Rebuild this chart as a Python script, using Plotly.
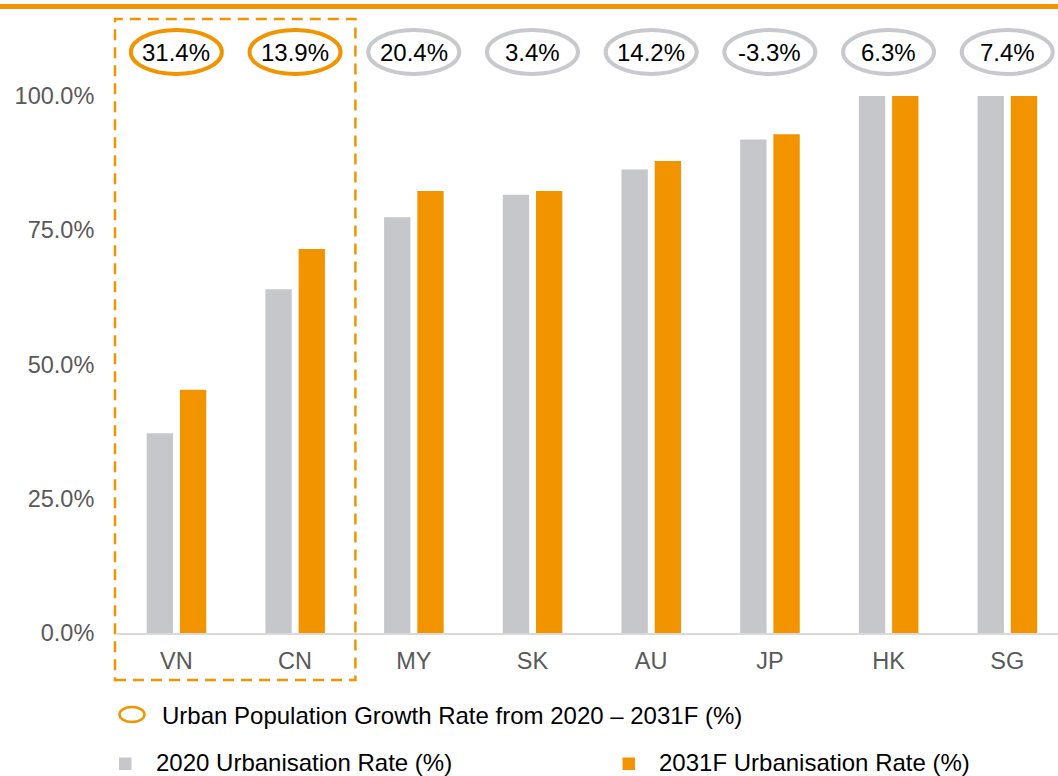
import plotly.graph_objects as go

# ---------------- data ----------------
countries = ["VN", "CN", "MY", "SK", "AU", "JP", "HK", "SG"]
rate_2020 = [37.2, 64.0, 77.4, 81.6, 86.3, 91.9, 100.0, 100.0]
rate_2031f = [45.3, 71.5, 82.3, 82.3, 87.9, 92.9, 100.0, 100.0]
growth_labels = ["31.4%", "13.9%", "20.4%", "3.4%", "14.2%", "-3.3%", "6.3%", "7.4%"]
highlighted = [True, True, False, False, False, False, False, False]
y_ticks = [0, 25, 50, 75, 100]
y_tick_text = ["0.0%", "25.0%", "50.0%", "75.0%", "100.0%"]

legend_growth = "Urban Population Growth Rate from 2020 \u2013 2031F (%)"
legend_2020 = "2020 Urbanisation Rate (%)"
legend_2031 = "2031F Urbanisation Rate (%)"

# ---------------- style ----------------
ORANGE = "#F29400"
GREY = "#C6C7CB"
ELL_GREY = "#C8C9CD"
TICK_GREY = "#595959"
FONT = "Arial, Liberation Sans, sans-serif"

W, H = 1058, 776
ML, MR, MT, MB = 117, 0, 16, 143
PW, PH = W - ML - MR, H - MT - MB
CAT_PX = 118.7               # pixel width of one category
X_RANGE = [-0.5, -0.5 + PW / CAT_PX]
PX_PER_UNIT = 5.37           # pixels per 1 percentage point
Y_RANGE = [0, PH / PX_PER_UNIT]


def px_x(p):
    return (p - ML) / PW


def px_y(p):
    return (H - MB - p) / PH


def d2p_x(d):
    return (d - X_RANGE[0]) / (X_RANGE[1] - X_RANGE[0])


xs = list(range(len(countries)))

fig = go.Figure()
fig.add_trace(go.Bar(
    x=xs, y=rate_2020, name=legend_2020, marker=dict(color=GREY, line=dict(width=0)),
    width=0.222, offset=-0.25, showlegend=False,
))
fig.add_trace(go.Bar(
    x=xs, y=rate_2031f, name=legend_2031, marker=dict(color=ORANGE, line=dict(width=0)),
    width=0.222, offset=0.03, showlegend=False,
))

shapes = []
annotations = []

# growth-rate ellipses + labels
ell_half_w = 45.5 / CAT_PX
ell_y_center = (H - MB - 52) / PX_PER_UNIT
ell_half_h = 22 / PX_PER_UNIT
for i, (lab, hl) in enumerate(zip(growth_labels, highlighted)):
    shapes.append(dict(
        type="circle", xref="x", yref="y",
        x0=i - ell_half_w, x1=i + ell_half_w,
        y0=ell_y_center - ell_half_h, y1=ell_y_center + ell_half_h,
        line=dict(color=ORANGE if hl else ELL_GREY, width=4),
        fillcolor="rgba(0,0,0,0)", layer="above",
    ))
    annotations.append(dict(
        x=i, y=ell_y_center, xref="x", yref="y", text=lab, showarrow=False,
        font=dict(family=FONT, size=24, color="#000000"),
        xanchor="center", yanchor="middle",
    ))

# dashed highlight box around first two categories
n_hl = sum(highlighted)
shapes.append(dict(
    type="rect", xref="paper", yref="paper",
    x0=d2p_x(-0.5) - 2 / PW, x1=d2p_x(n_hl - 0.5) + 1 / PW,
    y0=px_y(680), y1=px_y(19),
    line=dict(color=ORANGE, width=2.5, dash="11px,7px"),
    fillcolor="rgba(0,0,0,0)", layer="above",
))

# top orange rule
shapes.append(dict(
    type="line", xref="paper", yref="paper",
    x0=px_x(0), x1=px_x(W), y0=px_y(6.5), y1=px_y(6.5),
    line=dict(color=ORANGE, width=5),
))

# ---------------- legend (manual) ----------------
shapes.append(dict(
    type="circle", xref="paper", yref="paper",
    x0=px_x(119.5), x1=px_x(144.5), y0=px_y(722), y1=px_y(707),
    line=dict(color=ORANGE, width=2.5), fillcolor="rgba(0,0,0,0)",
))
annotations.append(dict(
    x=px_x(161), y=px_y(715), xref="paper", yref="paper", text=legend_growth,
    showarrow=False, xanchor="left", yanchor="middle", borderpad=0,
    font=dict(family=FONT, size=24, color="#000000"),
))
shapes.append(dict(
    type="rect", xref="paper", yref="paper",
    x0=px_x(119), x1=px_x(131.5), y0=px_y(770), y1=px_y(757.5),
    line=dict(width=0), fillcolor=GREY,
))
annotations.append(dict(
    x=px_x(155), y=px_y(762.5), xref="paper", yref="paper", text=legend_2020,
    showarrow=False, xanchor="left", yanchor="middle", borderpad=0,
    font=dict(family=FONT, size=24, color="#000000"),
))
shapes.append(dict(
    type="rect", xref="paper", yref="paper",
    x0=px_x(622.5), x1=px_x(635), y0=px_y(770), y1=px_y(757.5),
    line=dict(width=0), fillcolor=ORANGE,
))
annotations.append(dict(
    x=px_x(658), y=px_y(762.5), xref="paper", yref="paper", text=legend_2031,
    showarrow=False, xanchor="left", yanchor="middle", borderpad=0,
    font=dict(family=FONT, size=24, color="#000000"),
))

fig.update_layout(
    width=W, height=H,
    margin=dict(l=ML, r=MR, t=MT, b=MB, pad=0),
    paper_bgcolor="white", plot_bgcolor="white",
    showlegend=False,
    barmode="overlay",
    shapes=shapes, annotations=annotations,
    font=dict(family=FONT),
    xaxis=dict(
        range=X_RANGE, tickvals=xs, ticktext=countries,
        showgrid=False, zeroline=False,
        showline=True, linecolor="#D9D9D9", linewidth=2,
        ticks="outside", ticklen=6, tickcolor="rgba(0,0,0,0)",
        tickfont=dict(family=FONT, size=23.5, color=TICK_GREY),
        fixedrange=True,
    ),
    yaxis=dict(
        range=Y_RANGE, tickvals=y_ticks, ticktext=y_tick_text,
        showgrid=False, zeroline=False, showline=False,
        ticks="outside", ticklen=17, tickcolor="rgba(0,0,0,0)",
        tickfont=dict(family=FONT, size=23.5, color=TICK_GREY),
        fixedrange=True,
    ),
)

fig.write_html(
    "out.html",
    config={"displayModeBar": False},
    post_script="document.body.style.margin='0';document.body.style.padding='0';document.body.style.overflow='hidden';",
)
